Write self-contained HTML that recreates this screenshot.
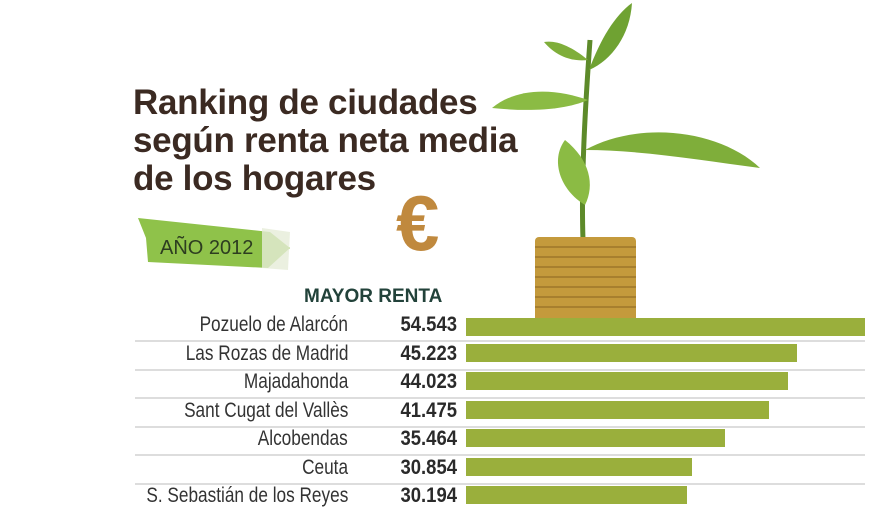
<!DOCTYPE html>
<html><head><meta charset="utf-8"><style>
body{margin:0;width:880px;height:495px;overflow:hidden;background:#fff;position:relative;font-family:"Liberation Sans",sans-serif}
.t{position:absolute;left:133px;font-weight:bold;font-size:35px;color:#3b2a22;letter-spacing:-0.3px;line-height:38px}
.row{position:absolute;left:135px;width:730px;height:28px;border-bottom:2px solid #ddd}
.nm{position:absolute;right:517px;top:1px;font-size:21px;color:#333;white-space:nowrap;transform:scaleX(0.82);transform-origin:right center}
.v{position:absolute;left:232px;width:90px;text-align:right;top:1px;font-size:21px;font-weight:bold;color:#2a2a2a;transform:scaleX(0.88);transform-origin:right center}
.b{position:absolute;left:331px;top:3px;height:18px;background:#9aaf3c}
</style></head><body>
<div class="t" style="top:84px">Ranking de ciudades</div>
<div class="t" style="top:122px">según renta neta media</div>
<div class="t" style="top:160px">de los hogares</div>
<svg style="position:absolute;left:0;top:0" width="880" height="495">
<polygon points="138,218 270,232 290,248 268,268 148,262 146,238" fill="#8fc24a"/>
<polygon points="262,228 290,232 288,270 262,268" fill="#e6ecd8" opacity=".8"/>
<text x="160" y="254" font-family="Liberation Sans" font-size="20" fill="#2d3d20">AÑO 2012</text>
<text x="396" y="250" font-family="Liberation Sans" font-weight="bold" font-size="78" fill="#c0893e">€</text>
<path d="M583,240 C581,180 585,110 590,40" stroke="#5d8a2a" stroke-width="5" fill="none"/>
<path d="M585,150 C640,120 720,130 760,168 C700,160 640,150 585,150Z" fill="#7fae3a"/>
<path d="M585,205 C560,190 550,160 565,140 C590,160 595,185 585,205Z" fill="#8bbb44"/>
<path d="M588,100 C560,90 520,85 492,108 C530,112 565,110 588,100Z" fill="#8bbb44"/>
<path d="M589,70 C600,40 615,15 632,3 C630,35 612,60 589,70Z" fill="#6fa232"/>
<path d="M588,60 C570,45 555,40 544,42 C555,55 570,62 588,60Z" fill="#7fae3a"/>
<rect x="535" y="237" width="101" height="85" rx="4" fill="#c49a3c"/>
<g stroke="#8a6420" stroke-width="1">
<line x1="535" y1="247" x2="636" y2="247"/><line x1="535" y1="257" x2="636" y2="257"/><line x1="535" y1="267" x2="636" y2="267"/><line x1="535" y1="277" x2="636" y2="277"/><line x1="535" y1="287" x2="636" y2="287"/><line x1="535" y1="297" x2="636" y2="297"/><line x1="535" y1="307" x2="636" y2="307"/></g>
<text x="304" y="302" font-family="Liberation Sans" font-weight="bold" font-size="19" fill="#22423a">MAYOR RENTA</text>
</svg>
<div class="row" style="top:312px"><span class="nm">Pozuelo de Alarcón</span><span class="v">54.543</span><span class="b" style="width:399px;top:6px"></span></div>
<div class="row" style="top:341px"><span class="nm">Las Rozas de Madrid</span><span class="v">45.223</span><span class="b" style="width:331px"></span></div>
<div class="row" style="top:369px"><span class="nm">Majadahonda</span><span class="v">44.023</span><span class="b" style="width:322px"></span></div>
<div class="row" style="top:398px"><span class="nm">Sant Cugat del Vallès</span><span class="v">41.475</span><span class="b" style="width:303px"></span></div>
<div class="row" style="top:426px"><span class="nm">Alcobendas</span><span class="v">35.464</span><span class="b" style="width:259px"></span></div>
<div class="row" style="top:455px"><span class="nm">Ceuta</span><span class="v">30.854</span><span class="b" style="width:226px"></span></div>
<div class="row" style="top:483px;border:none"><span class="nm">S. Sebastián de los Reyes</span><span class="v">30.194</span><span class="b" style="width:221px"></span></div>
</body></html>
